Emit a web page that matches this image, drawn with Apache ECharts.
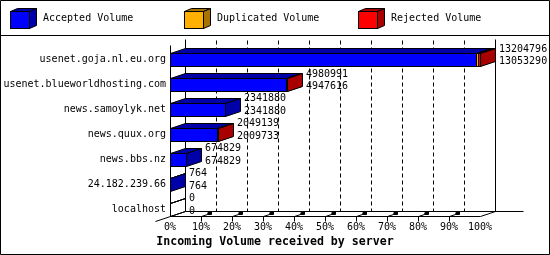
<!DOCTYPE html>
<html><head><meta charset="utf-8">
<script src="https://cdn.jsdelivr.net/npm/echarts@6/dist/echarts.min.js"></script>
<style>html,body{margin:0;padding:0;background:#fff}#c{width:550px;height:255px}</style>
</head><body><div id="c"></div>
<script>
const hosts = ['usenet.goja.nl.eu.org','usenet.blueworldhosting.com','news.samoylyk.net','news.quux.org','news.bbs.nz','24.182.239.66','localhost'];
const accepted = [13053290, 4947616, 2341880, 2009733, 674829, 764, 0];
const duplicated = [80000, 0, 0, 0, 0, 0, 0];
const rejected = [71506, 33375, 0, 39406, 0, 0, 0];
const tickValues = [0,10,20,30,40,50,60,70,80,90,100];
const seriesNames = ['Accepted Volume','Duplicated Volume','Rejected Volume'];
const axisTitle = 'Incoming Volume received by server';

const FRONT = ['#0000ff','#ffb000','#ff0000'];
const DARK = ['#0000a8','#a87400','#a80000'];
const DX = 15, DY = 5, HALF = 6.5;
const MONO = '"DejaVu Sans Mono", "Liberation Mono", monospace';

const totals = hosts.map((h,i)=>accepted[i]+duplicated[i]+rejected[i]);
const maxTotal = Math.max(...totals);
const segs = [accepted, duplicated, rejected];

function segData(s){
  return hosts.map((h,i)=>{
    let start = 0; for(let k=0;k<s;k++) start += segs[k][i];
    const end = start + segs[s][i];
    return [i, start/maxTotal*100, end/maxTotal*100, segs[s][i]];
  });
}
const r = v => Math.round(v)+0.5;

function boxRender(s){
  return function(params, api){
    const row = api.value(0), st = api.value(1), en = api.value(2), raw = api.value(3);
    const empty = raw === 0;
    if (empty && !(s===0 && totals[row]===0)) return null;
    const p0 = api.coord([st,row]), p1 = api.coord([en,row]);
    const x0 = r(p0[0]), x1 = r(p1[0]);
    const top = r(p0[1]-HALF), bot = top + 13;
    const fr = empty ? 'none' : FRONT[s], dk = empty ? 'none' : DARK[s];
    const ls = {stroke:'#000', lineWidth:1};
    return {type:'group', children:[
      {type:'polygon', shape:{points:[[x0,top],[x0+DX,top-DY],[x1+DX,top-DY],[x1,top]]}, style:Object.assign({fill:dk},ls)},
      {type:'polygon', shape:{points:[[x1,top],[x1+DX,top-DY],[x1+DX,bot-DY],[x1,bot]]}, style:Object.assign({fill:dk},ls)},
      {type:'polygon', shape:{points:[[x0,top],[x1,top],[x1,bot],[x0,bot]]}, style:Object.assign({fill:fr},ls)}
    ]};
  };
}

function frameRender(params, api){
  const first = api.coord([0,0]), last = api.coord([0,hosts.length-1]);
  const xa = r(first[0]), xb = r(api.coord([100,0])[0]);
  const frontTop = r(first[1]-14.5), floor = r(last[1]+7);
  const backTop = frontTop - 6, backFloor = floor - DY;
  const L = (a,b,c,d,dash)=>({type:'line', shape:{x1:a,y1:b,x2:c,y2:d}, style:{stroke:'#000', lineWidth:1, lineDash:dash||null}});
  const ch = [];
  tickValues.forEach(v=>{
    const x = r(api.coord([v,0])[0]) + DX;
    if (v===0 || v===100) ch.push(L(x,backTop,x,backFloor));
    else ch.push(L(x,backTop+1,x,backFloor,[4,3]));
  });
  ch.push(L(xa+DX,backFloor,xb+DX+28,backFloor));
  ch.push(L(xa,frontTop,xa,floor));
  ch.push(L(xa,floor,xb,floor));
  ch.push(L(xa-15,floor+5,xa+DX,backFloor));
  ch.push(L(xb,floor,xb+DX,backFloor));
  tickValues.forEach(v=>{
    if (v===0 || v===100) return;
    const x = r(api.coord([v,0])[0]);
    ch.push(L(x,floor,x,floor+5));
    ch.push(L(x,floor,x+6,floor-2));
    ch.push({type:'polygon', shape:{points:[[x+6,floor-2],[x+7,floor-5],[x+10,floor-5],[x+10,floor-2]]}, style:{fill:'#000', stroke:'#000', lineWidth:1}});
  });
  return {type:'group', children:ch};
}

function labelRender(params, api){
  const row = api.value(0), en = api.value(1);
  const p = api.coord([en,row]);
  const x = Math.round(p[0]) + DX + 4;
  const tf = {fill:'#000', font:'10px '+MONO, textAlign:'left', textVerticalAlign:'middle'};
  return {type:'group', children:[
    {type:'text', style:Object.assign({x:x, y:p[1]-10.5, text:String(totals[row])}, tf)},
    {type:'text', style:Object.assign({x:x, y:p[1]+2, text:String(accepted[row])}, tf)}
  ]};
}

function iconFor(s){
  const svg = "<svg xmlns='http://www.w3.org/2000/svg' width='27' height='21'>" +
    "<polygon points='0.5,3.5 7.5,0.5 26.5,0.5 19.5,3.5' fill='"+DARK[s]+"' stroke='#000'/>" +
    "<polygon points='19.5,3.5 26.5,0.5 26.5,17.5 19.5,20.5' fill='"+DARK[s]+"' stroke='#000'/>" +
    "<rect x='0.5' y='3.5' width='19' height='17' fill='"+FRONT[s]+"' stroke='#000'/></svg>";
  return 'image://data:image/svg+xml;charset=utf-8,' + encodeURIComponent(svg);
}

const legendLefts = [10, 184, 358];
const chart = echarts.init(document.getElementById('c'), null, {renderer:'canvas'});
chart.setOption({
  backgroundColor:'#fff',
  animation:false,
  legend: seriesNames.map((n,s)=>({
    data:[{name:n, icon:iconFor(s)}], left:legendLefts[s], top:8, padding:0, itemWidth:27, itemHeight:21,
    selectedMode:false,
    textStyle:{fontFamily:MONO, fontSize:10, color:'#000', padding:[3,0,0,1]}
  })),
  grid:{left:170, right:70, top:59.5, bottom:46},
  xAxis:{type:'value', min:0, max:100, interval:10, offset:7,
    axisLine:{show:false}, axisTick:{show:false}, splitLine:{show:false},
    axisLabel:{formatter:'{value}%', fontFamily:MONO, fontSize:10, color:'#000', margin:6}},
  yAxis:{type:'category', data:hosts, inverse:true, boundaryGap:false,
    axisLine:{show:false}, axisTick:{show:false}, splitLine:{show:false},
    axisLabel:{fontFamily:MONO, fontSize:10, color:'#000', margin:4}},
  graphic:[
    {type:'rect', shape:{x:0.5,y:0.5,width:549,height:254}, style:{fill:'none', stroke:'#000', lineWidth:1}, silent:true},
    {type:'line', shape:{x1:0,y1:35.5,x2:550,y2:35.5}, style:{stroke:'#000', lineWidth:1}, silent:true},
    {type:'text', left:'center', top:236, style:{text:axisTitle, font:'bold 11.6px '+MONO, fill:'#000'}}
  ],
  series:[
    {type:'custom', name:'frame', clip:false, silent:true, renderItem:frameRender, data:[[0,0]], encode:{x:0,y:1}, z:1},
    ...seriesNames.map((n,s)=>({type:'custom', name:n, clip:false, renderItem:boxRender(s), data:segData(s), encode:{x:[1,2], y:0}, z:2})),
    {type:'custom', name:'labels', clip:false, silent:true, renderItem:labelRender,
      data:hosts.map((h,i)=>[i, totals[i]/maxTotal*100]), encode:{x:1, y:0}, z:3}
  ]
});
</script></body></html>
